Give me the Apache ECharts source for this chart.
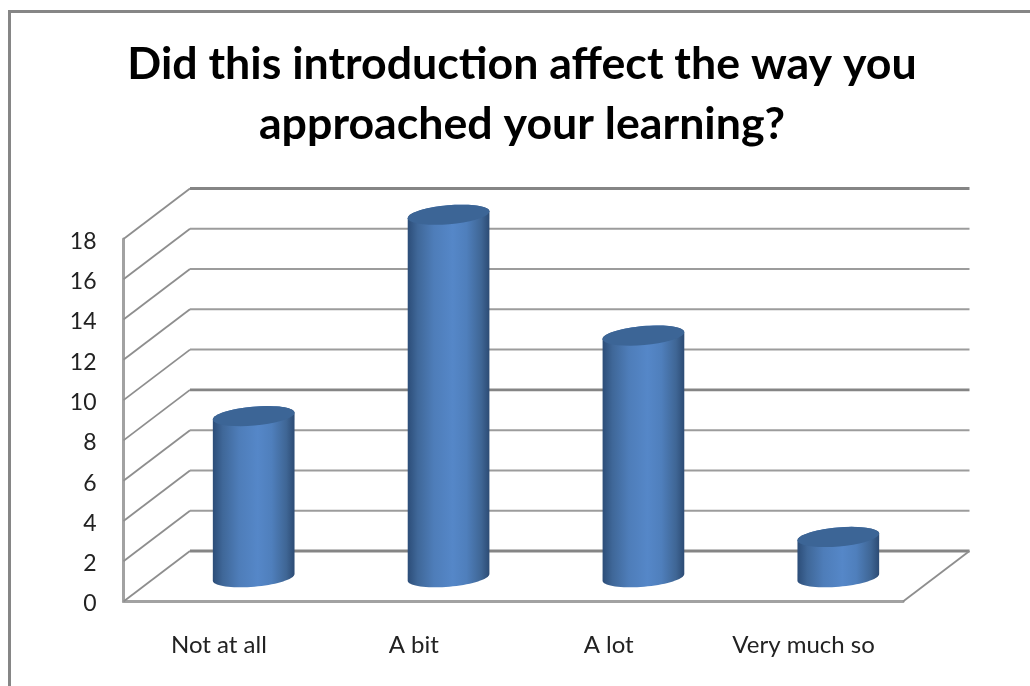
<!DOCTYPE html>
<html>
<head>
<meta charset="utf-8">
<style>html,body{margin:0;padding:0;background:#fff}#c{width:1030px;height:686px}</style>
<script src="https://cdn.jsdelivr.net/npm/echarts@6/dist/echarts.min.js"></script>
</head>
<body>
<div id="c"></div>
<script>
var titleText = 'Did this introduction affect the way you\napproached your learning?';
var categories = ['Not at all', 'A bit', 'A lot', 'Very much so'];
var values = [8, 18, 12, 2];
var yTicks = [0, 2, 4, 6, 8, 10, 12, 14, 16, 18];

var DX = 66.5, DY = -50.5;            // wall depth
var RX = 41, RY = 9.5, TILT = -5 * Math.PI / 180;

function ell(cx, cy, t) {
  var c = Math.cos(t), s = Math.sin(t);
  return [cx + RX * c * Math.cos(TILT) - RY * s * Math.sin(TILT),
          cy + RX * c * Math.sin(TILT) + RY * s * Math.cos(TILT)];
}
function arc(cx, cy, a, b) {
  var pts = [], n = 36;
  for (var i = 0; i <= n; i++) pts.push(ell(cx, cy, a + (b - a) * i / n));
  return pts;
}

function renderWall(params, api) {
  var cs = params.coordSys;
  var v = api.value(1);
  var y = api.coord([0, v])[1];
  var heavy = (v === 0 || v === 18 || v === 8);
  var diagonal = { stroke: '#8e8e8e', lineWidth: 1.8, fill: null };
  var children = [
    {
      type: 'line',
      shape: { x1: cs.x, y1: y, x2: cs.x + DX, y2: y + DY },
      style: diagonal
    },
    {
      type: 'line',
      shape: { x1: cs.x + DX, y1: y + DY, x2: cs.x + cs.width + DX, y2: y + DY },
      style: { stroke: heavy ? '#858585' : '#9c9c9c', lineWidth: heavy ? 2.8 : 2, fill: null }
    }
  ];
  if (v === 0) {
    children.push({
      type: 'line',
      shape: { x1: cs.x + cs.width + DX, y1: y + DY, x2: cs.x + cs.width, y2: y },
      style: diagonal
    });
  }
  return { type: 'group', children: children };
}

function renderCyl(params, api) {
  var p = api.coord([api.value(0), api.value(1)]);
  var b = api.coord([api.value(0), 0]);
  var cx = p[0] + DX / 2 - 0.5;
  var top = p[1] + DY / 2 + 1;
  var bot = b[1] + DY / 2 + 1;
  var body = arc(cx, bot, 0, Math.PI).concat(arc(cx, top, Math.PI, 2 * Math.PI));
  return {
    type: 'group',
    children: [
      {
        type: 'polygon',
        shape: { points: body },
        style: {
          fill: {
            type: 'linear', x: 0, y: 0, x2: 1, y2: 0,
            colorStops: [
              { offset: 0, color: '#2c4d78' },
              { offset: 0.12, color: '#3f6798' },
              { offset: 0.32, color: '#4e7db9' },
              { offset: 0.55, color: '#5587c8' },
              { offset: 0.72, color: '#4f7fbc' },
              { offset: 0.9, color: '#3f6695' },
              { offset: 1, color: '#2c4b74' }
            ]
          }
        }
      },
      {
        type: 'polygon',
        shape: { points: arc(cx, top, 0, 2 * Math.PI) },
        style: { fill: '#3c6596' }
      }
    ]
  };
}

var chart = echarts.init(document.getElementById('c'), null, { renderer: 'canvas' });
chart.setOption({
  animation: false,
  backgroundColor: '#ffffff',
  title: {
    text: titleText,
    left: 517,
    top: 30,
    textAlign: 'center',
    textStyle: {
      fontFamily: 'Lato',
      fontWeight: 'bold',
      fontSize: 44.7,
      lineHeight: 60,
      color: '#000000'
    }
  },
  graphic: [{
    type: 'polyline',
    silent: true,
    z: 100,
    shape: { points: [[9.5, 690], [9.5, 11.5], [1034, 11.5]] },
    style: { fill: null, stroke: '#868686', lineWidth: 3 }
  }],
  grid: { left: 123.5, right: 127, top: 239, bottom: 84.5, containLabel: false },
  xAxis: {
    type: 'category',
    data: categories,
    axisTick: { show: false },
    axisLine: { show: true, lineStyle: { color: '#a2a2a2', width: 3 } },
    axisLabel: {
      margin: 32,
      padding: [0, 4, 0, 0],
      fontFamily: 'Lato',
      fontSize: 24,
      color: '#222222',
      interval: 0
    }
  },
  yAxis: {
    type: 'value',
    min: 0,
    max: 18,
    interval: 2,
    splitLine: { show: false },
    axisTick: { show: false },
    axisLine: { show: true, lineStyle: { color: '#a2a2a2', width: 3 } },
    axisLabel: {
      margin: 27,
      verticalAlign: 'top',
      lineHeight: 5,
      fontFamily: 'Lato',
      fontSize: 23,
      color: '#222222'
    }
  },
  series: [
    {
      type: 'custom',
      name: 'walls',
      z: 1,
      silent: true,
      clip: false,
      renderItem: renderWall,
      encode: { x: 0, y: 1 },
      data: yTicks.map(function (t) { return [0, t]; })
    },
    {
      type: 'custom',
      name: 'responses',
      z: 3,
      clip: false,
      renderItem: renderCyl,
      encode: { x: 0, y: 1 },
      data: values.map(function (v, i) { return [i, v]; })
    }
  ]
});
</script>
</body>
</html>
